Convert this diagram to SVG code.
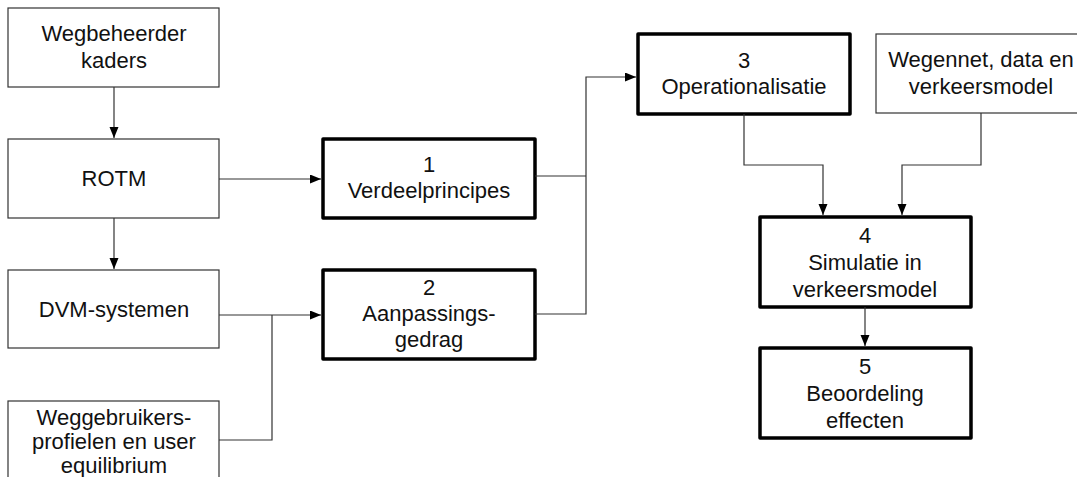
<svg xmlns="http://www.w3.org/2000/svg" width="1077" height="477" viewBox="0 0 1077 477">
<style>
  .thin { fill: #ffffff; stroke: #333333; stroke-width: 1.2; }
  .thick { fill: #ffffff; stroke: #000000; stroke-width: 3.5; stroke-linejoin: round; }
  .lbl { font-family: "Liberation Sans", Arial, sans-serif; font-size: 22px; fill: #111111; text-anchor: middle; }
  .conn { fill: none; stroke: #333333; stroke-width: 1.2; }
</style>
<defs>
  <marker id="arr" markerUnits="userSpaceOnUse" markerWidth="12" markerHeight="10" refX="11" refY="4.5" orient="auto">
    <path d="M0,0 L11,4.5 L0,9 z" fill="#000000"/>
  </marker>
</defs>
<rect width="1077" height="477" fill="#ffffff"/>

<g id="wegbeheerder">
  <rect class="thin" x="8" y="8" width="211" height="79"/>
  <text class="lbl" x="114" y="41">Wegbeheerder</text>
  <text class="lbl" x="114" y="68">kaders</text>
</g>
<g id="rotm">
  <rect class="thin" x="8" y="139" width="211" height="79"/>
  <text class="lbl" x="114" y="186">ROTM</text>
</g>
<g id="dvm">
  <rect class="thin" x="8" y="270" width="211" height="78"/>
  <text class="lbl" x="114" y="317">DVM-systemen</text>
</g>
<g id="weggebruikers">
  <rect class="thin" x="8" y="401" width="211" height="90"/>
  <text class="lbl" x="114" y="425">Weggebruikers-</text>
  <text class="lbl" x="114" y="449">profielen en user</text>
  <text class="lbl" x="114" y="473">equilibrium</text>
</g>
<g id="n1">
  <rect class="thick" x="323" y="139" width="212" height="79"/>
  <text class="lbl" x="429" y="172">1</text>
  <text class="lbl" x="429" y="198">Verdeelprincipes</text>
</g>
<g id="n2">
  <rect class="thick" x="323" y="270" width="212" height="89"/>
  <text class="lbl" x="429" y="295">2</text>
  <text class="lbl" x="429" y="321">Aanpassings-</text>
  <text class="lbl" x="429" y="347">gedrag</text>
</g>
<g id="n3">
  <rect class="thick" x="638" y="34" width="212" height="80"/>
  <text class="lbl" x="744" y="68">3</text>
  <text class="lbl" x="744" y="94">Operationalisatie</text>
</g>
<g id="wegennet">
  <rect class="thin" x="876" y="34" width="211" height="79"/>
  <text class="lbl" x="981" y="67">Wegennet, data en</text>
  <text class="lbl" x="981" y="94">verkeersmodel</text>
</g>
<g id="n4">
  <rect class="thick" x="760" y="217" width="211" height="90"/>
  <text class="lbl" x="865" y="243">4</text>
  <text class="lbl" x="865" y="270">Simulatie in</text>
  <text class="lbl" x="865" y="297">verkeersmodel</text>
</g>
<g id="n5">
  <rect class="thick" x="760" y="348" width="211" height="90"/>
  <text class="lbl" x="865" y="374">5</text>
  <text class="lbl" x="865" y="401">Beoordeling</text>
  <text class="lbl" x="865" y="428">effecten</text>
</g>

<g id="connectors">
  <path class="conn" d="M114,87 L114,138" marker-end="url(#arr)"/>
  <path class="conn" d="M114,218 L114,269" marker-end="url(#arr)"/>
  <path class="conn" d="M219,179 L321,179" marker-end="url(#arr)"/>
  <path class="conn" d="M219,315 L321,315" marker-end="url(#arr)"/>
  <path class="conn" d="M219,440 L272,440 L272,315"/>
  <path class="conn" d="M535,176 L586,176"/>
  <path class="conn" d="M535,314 L586,314 L586,77 L636,77" marker-end="url(#arr)"/>
  <path class="conn" d="M744,114 L744,165 L823,165 L823,215" marker-end="url(#arr)"/>
  <path class="conn" d="M981,113 L981,165 L902,165 L902,215" marker-end="url(#arr)"/>
  <path class="conn" d="M865,307 L865,346" marker-end="url(#arr)"/>
</g>
</svg>
